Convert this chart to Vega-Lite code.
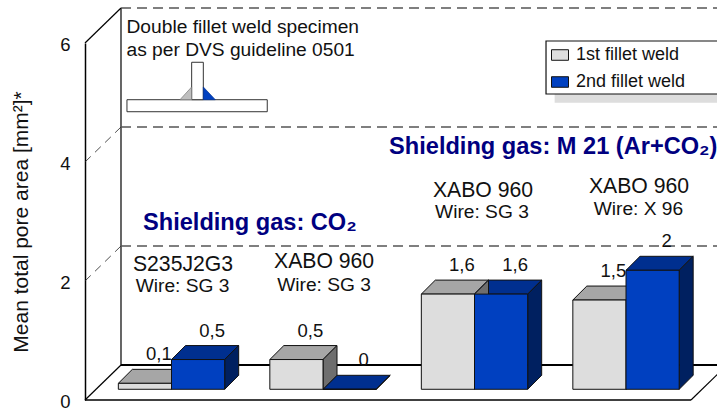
{"$schema":"https://vega.github.io/schema/vega-lite/v6.json","width":632,"height":357,"autosize":{"type":"none"},"padding":{"left":85,"top":43,"right":0,"bottom":10},"background":"white","config":{"view":{"stroke":null},"font":"Liberation Sans","text":{"font":"Liberation Sans"}},
"resolve":{"axis":{"y":"independent","x":"independent"}},
"datasets":{
"bars":[{"specimen":1,"pass":1,"weld":"1st fillet weld","value":0.1},{"specimen":1,"pass":2,"weld":"2nd fillet weld","value":0.5},{"specimen":2,"pass":1,"weld":"1st fillet weld","value":0.5},{"specimen":2,"pass":2,"weld":"2nd fillet weld","value":0},{"specimen":3,"pass":1,"weld":"1st fillet weld","value":1.6},{"specimen":3,"pass":2,"weld":"2nd fillet weld","value":1.6},{"specimen":4,"pass":1,"weld":"1st fillet weld","value":1.5},{"specimen":4,"pass":2,"weld":"2nd fillet weld","value":2}],
"levels":[{"level":0},{"level":2},{"level":4},{"level":6}],
"materials":[{"x":0.647,"y":2.168,"t":"S235J2G3"},{"x":1.578,"y":2.218,"t":"XABO 960"},{"x":2.627,"y":3.412,"t":"XABO 960"},{"x":3.657,"y":3.479,"t":"XABO 960"}],
"wires":[{"x":0.644,"y":1.815,"t":"Wire: SG 3"},{"x":1.578,"y":1.832,"t":"Wire: SG 3"},{"x":2.62,"y":3.059,"t":"Wire: SG 3"},{"x":3.653,"y":3.109,"t":"Wire: X 96"}],
"gases":[{"x":0.383,"y":2.857,"t":"Shielding gas: CO₂"},{"x":2.007,"y":4.134,"t":"Shielding gas: M 21 (Ar+CO₂)"}],
"notes":[{"x":0.274,"y":6.168,"t":"Double fillet weld specimen"},{"x":0.274,"y":5.782,"t":"as per DVS guideline 0501"}],
"plates":[{"x":0.277,"x2":1.203,"y":5.047,"y2":4.845},{"x":0.704,"x2":0.781,"y":5.676,"y2":5.047}],
"weld1":[{"x":0.627,"top":5.047,"bottom":5.047},{"x":0.704,"top":5.261,"bottom":5.047}],
"weld2":[{"x":0.781,"top":5.261,"bottom":5.047},{"x":0.86,"top":5.047,"bottom":5.047}],
"legendShadow":[{"x":3.1,"x2":4.2,"y":5.5,"y2":4.997}],
"legendFrame":[{"x":3.043,"x2":4.2,"y":6.034,"y2":5.143}]
},
"layer":[
{"data":{"name":"levels"},"transform":[{"filter":"datum.level==0"},{"calculate":"0.2376","as":"a"},{"calculate":"6.588","as":"b"},{"calculate":"0.588","as":"c"}],"mark":{"type":"rule","color":"#000","strokeWidth":1.2},"encoding":{"x":{"field":"a","type":"quantitative","scale":{"domain":[0,4.1716],"nice":false,"zero":false},"axis":null},"y":{"field":"c","type":"quantitative","scale":{"domain":[0,6],"nice":false,"zero":false},"axis":{"values":[0,2,4,6],"title":"Mean total pore area [mm²]*","labelFontSize":18.5,"titleFontSize":21,"labelFont":"Liberation Sans","titleFont":"Liberation Sans","titleFontWeight":"normal","ticks":false,"grid":false,"domainColor":"#000","domainWidth":1.5,"labelColor":"#111","titleColor":"#111","labelPadding":15,"titlePadding":28,"labelOffset":1,"labelOverlap":false,"format":"d"}},"y2":{"field":"b"}}},
{"data":{"name":"levels"},"transform":[{"filter":"datum.level>0"},{"calculate":"datum.level+0.588","as":"b"},{"calculate":"0.2376","as":"a"},{"calculate":"4.2","as":"e"}],"mark":{"type":"rule","color":"#555","strokeWidth":1.3,"strokeDash":[10,6]},"encoding":{"x":{"field":"a","type":"quantitative","scale":{"domain":[0,4.1716],"nice":false,"zero":false},"axis":null},"x2":{"field":"e"},"y":{"field":"b","type":"quantitative","scale":{"domain":[0,6],"nice":false,"zero":false},"axis":null}}},
{"data":{"name":"levels"},"transform":[{"filter":"datum.level==0"},{"calculate":"0.588","as":"b"},{"calculate":"0.2376","as":"a"},{"calculate":"4.2","as":"e"}],"mark":{"type":"rule","color":"#000","strokeWidth":2},"encoding":{"x":{"field":"a","type":"quantitative","scale":{"domain":[0,4.1716],"nice":false,"zero":false},"axis":null},"x2":{"field":"e"},"y":{"field":"b","type":"quantitative","scale":{"domain":[0,6],"nice":false,"zero":false},"axis":null}}},
{"data":{"name":"levels"},"transform":[{"filter":"datum.level==2||datum.level==4"},{"calculate":"datum.level+0.588","as":"b"},{"calculate":"0","as":"a"},{"calculate":"0.2376","as":"e"}],"mark":{"type":"rule","color":"#222","strokeWidth":0.8,"strokeDash":[8,6]},"encoding":{"x":{"field":"a","type":"quantitative","scale":{"domain":[0,4.1716],"nice":false,"zero":false},"axis":null},"x2":{"field":"e"},"y":{"field":"level","type":"quantitative","scale":{"domain":[0,6],"nice":false,"zero":false},"axis":null},"y2":{"field":"b"}}},
{"data":{"name":"levels"},"transform":[{"filter":"datum.level==0||datum.level==6"},{"calculate":"datum.level+0.588","as":"b"},{"calculate":"0","as":"a"},{"calculate":"0.2376","as":"e"}],"mark":{"type":"rule","color":"#000","strokeWidth":1.2},"encoding":{"x":{"field":"a","type":"quantitative","scale":{"domain":[0,4.1716],"nice":false,"zero":false},"axis":null},"x2":{"field":"e"},"y":{"field":"level","type":"quantitative","scale":{"domain":[0,6],"nice":false,"zero":false},"axis":null},"y2":{"field":"b"}}},
{"data":{"name":"levels"},"transform":[{"filter":"datum.level==0"},{"calculate":"0","as":"a"},{"calculate":"4","as":"e"}],"mark":{"type":"rule","color":"#000","strokeWidth":1.5},"encoding":{"x":{"field":"a","type":"quantitative","scale":{"domain":[0,4.1716],"nice":false,"zero":false},"axis":null},"x2":{"field":"e"},"y":{"field":"level","type":"quantitative","scale":{"domain":[0,6],"nice":false,"zero":false},"axis":null}}},
{"data":{"name":"levels"},"transform":[{"filter":"datum.level==0"},{"calculate":"4","as":"a"},{"calculate":"4.2376","as":"e"},{"calculate":"0.588","as":"b"}],"mark":{"type":"rule","color":"#000","strokeWidth":1.2},"encoding":{"x":{"field":"a","type":"quantitative","scale":{"domain":[0,4.1716],"nice":false,"zero":false},"axis":null},"x2":{"field":"e"},"y":{"field":"level","type":"quantitative","scale":{"domain":[0,6],"nice":false,"zero":false},"axis":null},"y2":{"field":"b"}}},
{"data":{"name":"notes"},"mark":{"type":"text","align":"left","baseline":"alphabetic","fontSize":19.2,"color":"#111"},"encoding":{"x":{"field":"x","type":"quantitative","scale":{"domain":[0,4.1716],"nice":false,"zero":false},"axis":null},"y":{"field":"y","type":"quantitative","scale":{"domain":[0,6],"nice":false,"zero":false},"axis":null},"text":{"field":"t"}}},
{"data":{"name":"plates"},"mark":{"type":"rect","fill":"white","stroke":"#333","strokeWidth":1},"encoding":{"x":{"field":"x","type":"quantitative","scale":{"domain":[0,4.1716],"nice":false,"zero":false},"axis":null},"x2":{"field":"x2"},"y":{"field":"y","type":"quantitative","scale":{"domain":[0,6],"nice":false,"zero":false},"axis":null},"y2":{"field":"y2"}}},
{"data":{"name":"weld1"},"mark":{"type":"area","orient":"vertical","fill":"#BFBFBF","stroke":"#777","strokeWidth":0.7},"encoding":{"x":{"field":"x","type":"quantitative","scale":{"domain":[0,4.1716],"nice":false,"zero":false},"axis":null},"y":{"field":"top","type":"quantitative","scale":{"domain":[0,6],"nice":false,"zero":false},"axis":null},"y2":{"field":"bottom"}}},
{"data":{"name":"weld2"},"mark":{"type":"area","orient":"vertical","fill":"#0040C0","stroke":"#003090","strokeWidth":0.7},"encoding":{"x":{"field":"x","type":"quantitative","scale":{"domain":[0,4.1716],"nice":false,"zero":false},"axis":null},"y":{"field":"top","type":"quantitative","scale":{"domain":[0,6],"nice":false,"zero":false},"axis":null},"y2":{"field":"bottom"}}},
{"data":{"name":"legendShadow"},"mark":{"type":"rect","fill":"#DDDDDD"},"encoding":{"x":{"field":"x","type":"quantitative","scale":{"domain":[0,4.1716],"nice":false,"zero":false},"axis":null},"x2":{"field":"x2"},"y":{"field":"y","type":"quantitative","scale":{"domain":[0,6],"nice":false,"zero":false},"axis":null},"y2":{"field":"y2"}}},
{"data":{"name":"legendFrame"},"mark":{"type":"rect","fill":"white","stroke":"#111","strokeWidth":1.2},"encoding":{"x":{"field":"x","type":"quantitative","scale":{"domain":[0,4.1716],"nice":false,"zero":false},"axis":null},"x2":{"field":"x2"},"y":{"field":"y","type":"quantitative","scale":{"domain":[0,6],"nice":false,"zero":false},"axis":null},"y2":{"field":"y2"}}},
{"data":{"name":"gases"},"mark":{"type":"text","align":"left","baseline":"alphabetic","fontSize":23.6,"fontWeight":"bold","color":"#000080"},"encoding":{"x":{"field":"x","type":"quantitative","scale":{"domain":[0,4.1716],"nice":false,"zero":false},"axis":null},"y":{"field":"y","type":"quantitative","scale":{"domain":[0,6],"nice":false,"zero":false},"axis":null},"text":{"field":"t"}}},
{"data":{"name":"materials"},"mark":{"type":"text","align":"center","baseline":"alphabetic","fontSize":21.2,"color":"#111"},"encoding":{"x":{"field":"x","type":"quantitative","scale":{"domain":[0,4.1716],"nice":false,"zero":false},"axis":null},"y":{"field":"y","type":"quantitative","scale":{"domain":[0,6],"nice":false,"zero":false},"axis":null},"text":{"field":"t"}}},
{"data":{"name":"wires"},"mark":{"type":"text","align":"center","baseline":"alphabetic","fontSize":19.2,"color":"#111"},"encoding":{"x":{"field":"x","type":"quantitative","scale":{"domain":[0,4.1716],"nice":false,"zero":false},"axis":null},"y":{"field":"y","type":"quantitative","scale":{"domain":[0,6],"nice":false,"zero":false},"axis":null},"text":{"field":"t"}}},
{"data":{"name":"bars"},"transform":[{"calculate":"datum.specimen-1+0.22+(datum.pass-1)*0.351+0.1755+0.0924","as":"lx"},{"calculate":"datum.value+0.18+0.235","as":"ly"},{"calculate":"replace(''+datum.value,'.',',')","as":"lab"}],"mark":{"type":"text","align":"center","baseline":"alphabetic","dy":-9,"fontSize":18.5,"color":"#111"},"encoding":{"x":{"field":"lx","type":"quantitative","scale":{"domain":[0,4.1716],"nice":false,"zero":false},"axis":null},"y":{"field":"ly","type":"quantitative","scale":{"domain":[0,6],"nice":false,"zero":false},"axis":null},"text":{"field":"lab"}}},
{"data":{"name":"bars"},"transform":[{"calculate":"datum.specimen-1+0.22+(datum.pass-1)*0.351","as":"x0"},{"calculate":"datum.x0+0.351","as":"x1"},{"calculate":"datum.value+0.18","as":"top"},{"calculate":"datum.pass==1?'#A6A6A6':'#002F8F'","as":"shade"},{"calculate":"[0,1]","as":"t"},{"flatten":["t"]},{"calculate":"datum.top+datum.t*0.235","as":"py"},{"calculate":"datum.x0+datum.t*0.0924","as":"pa"},{"calculate":"datum.x1+datum.t*0.0924","as":"pb"}],"mark":{"type":"area","orient":"horizontal","stroke":"#111","strokeWidth":1},"encoding":{"y":{"field":"py","type":"quantitative","scale":{"domain":[0,6],"nice":false,"zero":false},"axis":null},"x":{"field":"pa","type":"quantitative","scale":{"domain":[0,4.1716],"nice":false,"zero":false},"axis":null},"x2":{"field":"pb"},"detail":[{"field":"specimen"},{"field":"pass"}],"fill":{"field":"shade","type":"nominal","scale":null}}},
{"data":{"name":"bars"},"transform":[{"calculate":"datum.specimen-1+0.22+(datum.pass-1)*0.351+0.351","as":"x1"},{"calculate":"datum.value+0.18","as":"top"},{"calculate":"datum.pass==1?'#6E6E6E':'#002060'","as":"shade"},{"calculate":"[0,1]","as":"t"},{"flatten":["t"]},{"calculate":"datum.x1+datum.t*0.0924","as":"px"},{"calculate":"datum.top+datum.t*0.235","as":"pt"},{"calculate":"0.18+datum.t*0.235","as":"pb"}],"mark":{"type":"area","orient":"vertical","stroke":"#111","strokeWidth":1},"encoding":{"x":{"field":"px","type":"quantitative","scale":{"domain":[0,4.1716],"nice":false,"zero":false},"axis":null},"y":{"field":"pt","type":"quantitative","scale":{"domain":[0,6],"nice":false,"zero":false},"axis":null},"y2":{"field":"pb"},"detail":[{"field":"specimen"},{"field":"pass"}],"fill":{"field":"shade","type":"nominal","scale":null}}},
{"data":{"name":"bars"},"transform":[{"calculate":"datum.specimen-1+0.22+(datum.pass-1)*0.351","as":"x0"},{"calculate":"datum.x0+0.351","as":"x1"},{"calculate":"datum.value+0.18","as":"top"},{"calculate":"0.18","as":"base"}],"mark":{"type":"rect","stroke":"#111","strokeWidth":1},"encoding":{"x":{"field":"x0","type":"quantitative","scale":{"domain":[0,4.1716],"nice":false,"zero":false},"axis":null},"x2":{"field":"x1"},"y":{"field":"top","type":"quantitative","scale":{"domain":[0,6],"nice":false,"zero":false},"axis":null},"y2":{"field":"base"},"color":{"field":"weld","type":"nominal","scale":{"domain":["1st fillet weld","2nd fillet weld"],"range":["#DDDDDD","#0040C0"]},"legend":{"title":null,"orient":"none","legendX":466,"legendY":3,"symbolType":"M-1,-0.62H1V0.62H-1Z","symbolSize":289,"symbolStrokeColor":"#111","symbolStrokeWidth":1,"labelFontSize":18,"labelFont":"Liberation Sans","labelColor":"#111","labelOffset":7,"rowPadding":9,"padding":0}}}}
]}
